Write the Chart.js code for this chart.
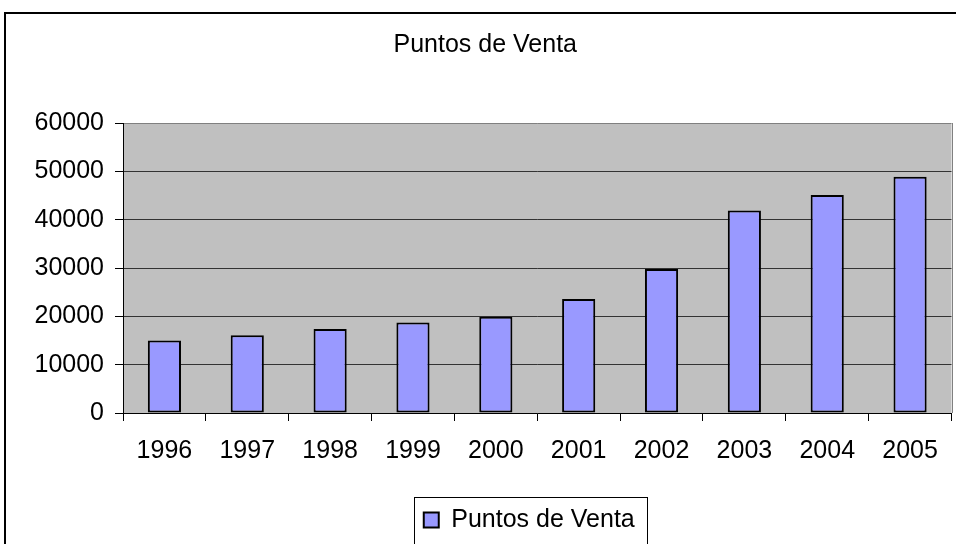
<!DOCTYPE html>
<html>
<head>
<meta charset="utf-8">
<script src="https://cdn.jsdelivr.net/npm/chart.js@4/dist/chart.umd.min.js"></script>
<style>
  html, body { margin: 0; padding: 0; background: #fff; overflow: hidden; }
  #wrap { position: relative; width: 956px; height: 544px; }
  #frame {
    position: absolute; left: 4px; top: 12px; width: 1000px; height: 1000px;
    border: 2px solid #000; pointer-events: none;
  }
</style>
</head>
<body>
<div id="wrap">
  <canvas id="chart" width="956" height="544"></canvas>
  <div id="frame"></div>
</div>
<script>
// Data
const years = ['1996', '1997', '1998', '1999', '2000', '2001', '2002', '2003', '2004', '2005'];
const puntosVenta = [15000, 16100, 17400, 18700, 19900, 23600, 29800, 41900, 45100, 48900];
const yTicks = [0, 10000, 20000, 30000, 40000, 50000, 60000];
const seriesName = 'Puntos de Venta';

const FONT = "'Liberation Sans', Arial, sans-serif";

// Grey plot area with a lighter frame on top/right
const plotBackground = {
  id: 'plotBackground',
  beforeDraw(chart) {
    const { ctx, chartArea: a } = chart;
    ctx.save();
    ctx.fillStyle = '#c0c0c0';
    ctx.fillRect(a.left, a.top, a.right - a.left, a.bottom - a.top);
    ctx.strokeStyle = '#808080';
    ctx.lineWidth = 1;
    ctx.beginPath();
    ctx.moveTo(Math.round(a.right) + 0.5, a.top);
    ctx.lineTo(Math.round(a.right) + 0.5, a.bottom);
    ctx.stroke();
    ctx.restore();
  }
};

// Legend sits a bit left of the plot centre and has a box round it
const boxedLegend = {
  id: 'boxedLegend',
  afterLayout(chart) {
    chart.legend.left -= 8;
    chart.legend.right -= 8;
  },
  afterDraw(chart) {
    const hb = chart.legend.legendHitBoxes[0];
    if (!hb) return;
    const { ctx } = chart;
    ctx.save();
    ctx.strokeStyle = '#000';
    ctx.lineWidth = 1;
    const x0 = Math.round(hb.left - 10) + 0.5;
    const x1 = Math.round(hb.left + hb.width + 12) + 0.5;
    const y0 = Math.round(hb.top - 11) + 0.5;
    ctx.strokeRect(x0, y0, x1 - x0, 60);
    ctx.restore();
  }
};

new Chart(document.getElementById('chart'), {
  type: 'bar',
  data: {
    labels: years,
    datasets: [{
      label: seriesName,
      data: puntosVenta,
      backgroundColor: '#9999ff',
      borderColor: '#000',
      borderWidth: 2,
      borderSkipped: false,
      barPercentage: 0.4,
      categoryPercentage: 1
    }]
  },
  options: {
    responsive: false,
    animation: false,
    layout: { padding: { left: 19, right: 4.5, top: 0, bottom: 1.5 } },
    plugins: {
      title: {
        display: true,
        text: seriesName,
        color: '#000',
        font: { family: FONT, size: 25, weight: 'normal' },
        padding: { top: 30, bottom: 63 }
      },
      legend: {
        display: true,
        position: 'bottom',
        fullSize: false,
        labels: {
          color: '#000',
          font: { family: FONT, size: 25 },
          boxWidth: 15,
          boxHeight: 15,
          padding: 10
        }
      },
      tooltip: { enabled: false }
    },
    scales: {
      x: {
        grid: {
          drawOnChartArea: false,
          drawTicks: true,
          tickLength: 8,
          tickColor: '#000',
          offset: true
        },
        border: { color: '#000', width: 1 },
        ticks: {
          color: '#000',
          font: { family: FONT, size: 25 },
          padding: 15,
          maxRotation: 0
        },
        afterFit(scale) { scale.height = 84.5; }
      },
      y: {
        min: yTicks[0],
        max: yTicks[yTicks.length - 1],
        afterBuildTicks(scale) { scale.ticks = yTicks.map(v => ({ value: v })); },
        grid: {
          color: ctx => (ctx.tick && ctx.tick.value === yTicks[yTicks.length - 1]) ? '#808080' : '#333',
          tickColor: '#000',
          tickLength: 8,
          lineWidth: 1
        },
        border: { color: '#000', width: 1 },
        ticks: {
          color: '#000',
          font: { family: FONT, size: 25 },
          padding: 11,
          callback: v => String(v)
        },
        afterFit(scale) { scale.width = 104; }
      }
    }
  },
  plugins: [plotBackground, boxedLegend]
});
</script>
</body>
</html>
